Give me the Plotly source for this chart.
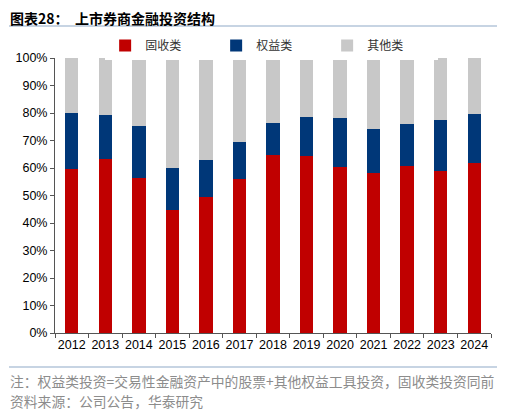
import plotly.graph_objects as go

years = ["2012", "2013", "2014", "2015", "2016", "2017", "2018",
         "2019", "2020", "2021", "2022", "2023", "2024"]
# shares in %
fixed_income = [59.6, 63.2, 56.2, 44.6, 49.5, 56.0, 64.6, 64.5, 60.4, 58.2, 60.6, 58.9, 61.9]
equity = [20.5, 16.2, 19.2, 15.5, 13.5, 13.3, 11.9, 14.2, 17.9, 16.0, 15.4, 18.6, 17.8]
other = [19.9, 20.6, 24.6, 39.9, 37.0, 30.7, 23.5, 21.3, 21.7, 25.8, 24.0, 22.5, 20.3]

pct_ticks = [0, 10, 20, 30, 40, 50, 60, 70, 80, 90, 100]
pct_labels = [f"{v}%" for v in pct_ticks]

series = [("固收类", fixed_income, "#C00000"),
          ("权益类", equity, "#003778"),
          ("其他类", other, "#C8C8C8")]

cjk = "Noto Sans CJK SC"

fig = go.Figure()
for name, vals, col in series:
    fig.add_trace(go.Bar(x=years, y=vals, name=name,
                         marker=dict(color=col, line=dict(width=0))))

# page body has an 8px margin, so the figure is 8px smaller each way
fig.update_layout(
    barmode="stack",
    bargap=0.6,
    width=497, height=404,
    margin=dict(l=47, r=14, t=50, b=79, autoexpand=False),
    plot_bgcolor="white",
    paper_bgcolor="white",
    font=dict(family="Liberation Sans, Arial", size=12, color="black"),
    showlegend=True,
    legend=dict(orientation="h", x=0.115, y=0.993, xanchor="left", yanchor="bottom",
                entrywidth=66, font=dict(family=cjk, size=12, color="#333333"),
                traceorder="normal"),
)
fig.update_xaxes(showline=True, linecolor="#555555", linewidth=1, tickangle=0,
                 ticks="outside", ticklen=4, tickcolor="#555555", tickson="boundaries",
                 tickfont=dict(size=12.5, color="black"))
fig.update_yaxes(range=[0, 100], tickvals=pct_ticks, ticktext=pct_labels, showgrid=False,
                 showline=True, linecolor="#555555", linewidth=1,
                 ticks="outside", ticklen=4, tickcolor="#555555",
                 tickfont=dict(size=12.5, color="black"), zeroline=False)

# title and rules
fig.add_annotation(text="<b>图表28：  上市券商金融投资结构</b>", xref="paper", yref="paper",
                   x=-47/436, y=1 + 40.5/275, xanchor="left", yanchor="middle", showarrow=False,
                   font=dict(family=cjk, size=14, color="black"))
fig.add_shape(type="line", xref="paper", yref="paper",
              x0=-46/436, x1=1 + 9/436, y0=1 + 32/275, y1=1 + 32/275,
              line=dict(color="#8FA9C8", width=1.2))
fig.add_shape(type="line", xref="paper", yref="paper",
              x0=-46/436, x1=1 + 9/436, y0=-34/275, y1=-34/275,
              line=dict(color="#8FA9C8", width=1.2))
fig.add_annotation(text="注：权益类投资=交易性金融资产中的股票+其他权益工具投资，固收类投资同前",
                   xref="paper", yref="paper", x=-47/436, y=-48/275, xanchor="left", yanchor="middle",
                   showarrow=False, font=dict(family=cjk, size=13.8, color="#8C8C8C"))
fig.add_annotation(text="资料来源：公司公告，华泰研究",
                   xref="paper", yref="paper", x=-47/436, y=-68/275, xanchor="left", yanchor="middle",
                   showarrow=False, font=dict(family=cjk, size=13.8, color="#8C8C8C"))

fig.write_html("out.html")
